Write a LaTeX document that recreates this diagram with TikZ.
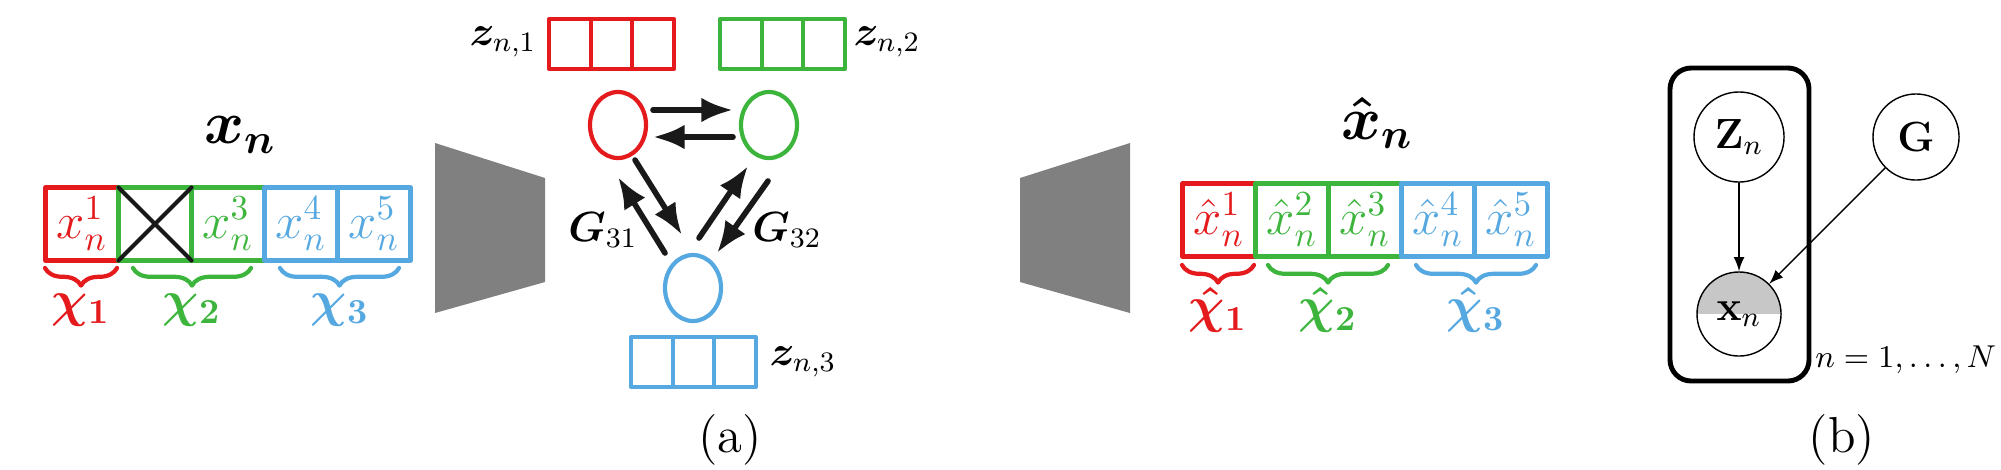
\documentclass[tikz,border=0pt]{standalone}
\usepackage{amsmath,amsfonts,bm}
\usepackage{tikz}
\usetikzlibrary{shapes,arrows,arrows.meta}
\usetikzlibrary{shapes.geometric}
\usetikzlibrary{decorations.pathreplacing}
\definecolor{cred}{HTML}{E41A1C}
\definecolor{cgreen}{HTML}{3DB53D}
\definecolor{cblue}{HTML}{56A8E0}
\tikzset{
  cell/.style={draw=#1,line width=1.2pt,minimum width=0.73cm,minimum height=0.73cm,inner sep=0pt,outer sep=0pt,text=#1,font=\Large},
  zcell/.style={draw=#1,line width=1.2pt,minimum width=0.415cm,minimum height=0.5cm,inner sep=0pt,outer sep=0pt},
  lat/.style={draw=#1,ellipse,line width=1.2pt,minimum width=0.56cm,minimum height=0.66cm,inner sep=0pt},
  arr/.style={-{Latex[length=9pt,width=7pt]},line width=1.6pt,black!90},
  brc/.style={decorate,decoration={brace,mirror,amplitude=5pt},line width=1.2pt,draw=#1},
  pgm/.style={circle,draw,thin,minimum size=#1,inner sep=0pt,font=\large}
}
\begin{document}
\begin{tikzpicture}[line cap=round,line join=round,x=0.01cm,y=-0.01cm]
\useasboundingbox (0,0) rectangle (2001,469);
%input vector
\node (xt) at (240,135) {\LARGE$\bm{x_n}$};
\node[cell=cred]   (i1) at (82,224)  {$x_n^1$};
\node[cell=cgreen] (i2) at (155,224) {};
\node[cell=cgreen] (i3) at (228,224) {$x_n^3$};
\node[cell=cblue]  (i4) at (301,224) {$x_n^4$};
\node[cell=cblue]  (i5) at (374,224) {$x_n^5$};
\draw[line width=1.2pt,black!90] (i2.north west) -- (i2.south east) (i2.south west) -- (i2.north east);
\draw[brc=cred]   (45,268) -- (117,268);
\draw[brc=cgreen] (133,268) -- (251,268);
\draw[brc=cblue]  (280,268) -- (399,268);
\node[text=cred]   (c1) at (81,310)  {\Large$\bm{\chi_1}$};
\node[text=cgreen] (c2) at (192,310) {\Large$\bm{\chi_2}$};
\node[text=cblue]  (c3) at (340,310) {\Large$\bm{\chi_3}$};
%encoder and decoder
\fill[black!50] (435,143) -- (545,178) -- (545,282) -- (435,313) -- cycle;
\fill[black!50] (1130,143) -- (1020,178) -- (1020,282) -- (1130,313) -- cycle;
%latent codes
\foreach \i in {0,1,2}{
  \node[zcell=cred]   at (570+\i*41.5,44)  {};
  \node[zcell=cgreen] at (741+\i*41.5,44)  {};
  \node[zcell=cblue]  at (652+\i*41.5,362) {};
}
\node (z1) at (503,42)  {\large$\bm{z}_{n,1}$};
\node (z2) at (887,42)  {\large$\bm{z}_{n,2}$};
\node (z3) at (803,362) {\large$\bm{z}_{n,3}$};
\node[lat=cred]   (r) at (618,125) {};
\node[lat=cgreen] (g) at (769,125) {};
\node[lat=cblue]  (b) at (693,288) {};
\draw[arr] ([shift={(35,-15)}]r.center) -- ([shift={(-36,-15)}]g.center);
\draw[arr] ([shift={(-36,12)}]g.center) -- ([shift={(35,12)}]r.center);
\draw[arr] ([shift={(17,35)}]r.center) -- ([shift={(-11,-53)}]b.center);
\draw[arr] ([shift={(-28,-35)}]b.center) -- ([shift={(0,52)}]r.center);
\draw[arr] ([shift={(6,-50)}]b.center) -- ([shift={(-21,41)}]g.center);
\draw[arr] ([shift={(-1,56)}]g.center) -- ([shift={(24,-35)}]b.center);
\node (l31) at (603,230) {\large$\bm{G}_{31}$};
\node (l32) at (787,230) {\large$\bm{G}_{32}$};
\node (pa) at (730,440) {\Large(a)};
%reconstruction
\node (yt) at (1377,123) {\LARGE$\bm{\hat{x}_n}$};
\node[cell=cred]   (o1) at (1219,220) {$\hat{x}_n^1$};
\node[cell=cgreen] (o2) at (1292,220) {$\hat{x}_n^2$};
\node[cell=cgreen] (o3) at (1365,220) {$\hat{x}_n^3$};
\node[cell=cblue]  (o4) at (1438,220) {$\hat{x}_n^4$};
\node[cell=cblue]  (o5) at (1511,220) {$\hat{x}_n^5$};
\draw[brc=cred]   (1182,265) -- (1254,265);
\draw[brc=cgreen] (1268,265) -- (1388,265);
\draw[brc=cblue]  (1416,265) -- (1536,265);
\node[text=cred]   (d1) at (1218,310) {\Large$\bm{\hat{\chi}_1}$};
\node[text=cgreen] (d2) at (1328,310) {\Large$\bm{\hat{\chi}_2}$};
\node[text=cblue]  (d3) at (1476,310) {\Large$\bm{\hat{\chi}_3}$};
%graphical model
\draw[line width=1.4pt,rounded corners=6pt] (1670,68) rectangle (1809,381);
\begin{scope}
  \clip (1739,314) circle (42);
  \fill[black!22] (1690,260) rectangle (1790,314);
\end{scope}
\node[pgm=0.9cm]  (zn) at (1739,137) {$\mathbf{Z}_n$};
\node[pgm=0.86cm] (gg) at (1916,137) {$\mathbf{G}$};
\node[pgm=0.84cm] (xn) at (1739,314) {$\mathbf{x}_n$};
\draw[-latex] (zn) -- (xn);
\draw[-latex] (gg) -- (xn);
\node[anchor=west,inner sep=1pt,font=\small] (nn) at (1811,360) {$n=1,\ldots,N$};
\node (pb) at (1842,440) {\Large(b)};
\end{tikzpicture}
\end{document}
